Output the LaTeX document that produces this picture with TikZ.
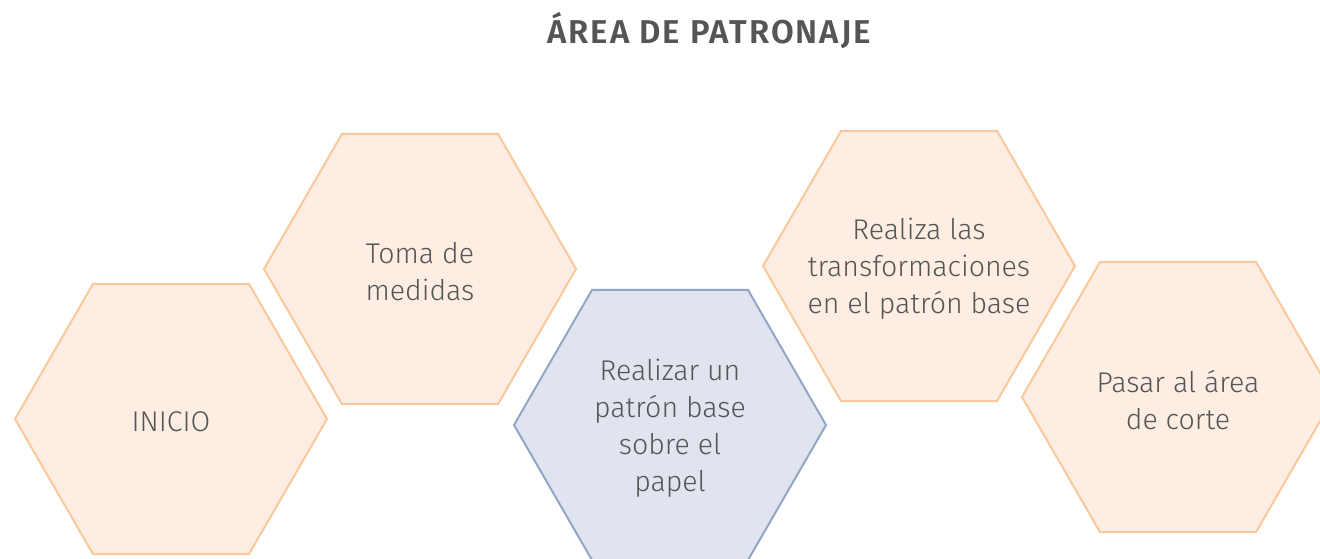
\documentclass[tikz,border=0pt]{standalone}
\usepackage{fontspec}
\setmainfont{Fira Sans}[UprightFont=* Light, BoldFont=* SemiBold]
\usetikzlibrary{shapes.geometric}
\definecolor{ofill}{HTML}{FDEDE2}
\definecolor{odraw}{HTML}{F9C89B}
\definecolor{bfill}{HTML}{DFE4EE}
\definecolor{bdraw}{HTML}{93A6C6}
\definecolor{txt}{HTML}{555555}
\tikzset{
  hexbase/.style={regular polygon, regular polygon sides=6, minimum size=312pt,
    inner sep=0pt, outer sep=0pt, line width=2pt},
  hexo/.style={hexbase, fill=ofill, draw=odraw},
  hexb/.style={hexbase, fill=bfill, draw=bdraw},
  hextext/.style={text=txt, align=center, inner sep=0pt,
    font=\fontsize{28.5}{37}\selectfont},
}
\begin{document}
\begin{tikzpicture}[x=1pt,y=-1pt]
\useasboundingbox (0,0) rectangle (1320,558);
\begin{scope}
\clip (0,0) rectangle (1320,558);
\node[hexo] (h1) at (171,419) {};
\node[hexo] (h2) at (420,269) {};
\node[hexb] (h3) at (670,425) {};
\node[hexo] (h4) at (919,266) {};
\node[hexo] (h5) at (1178,397) {};
\end{scope}
\node[hextext] (t1) at ([yshift=-3pt]h1.center) {INICIO};
\node[hextext] (t2) at ([yshift=-3pt]h2.center) {Toma de\\medidas};
\node[hextext] (t3) at ([yshift=-3pt]h3.center) {Realizar un\\patrón base\\sobre el\\papel};
\node[hextext] (t4) at ([yshift=-3pt]h4.center) {Realiza las\\transformaciones\\en el patrón base};
\node[hextext] (t5) at ([yshift=-3pt]h5.center) {Pasar al área\\de corte};
\node[text=txt, font=\fontsize{33}{36}\selectfont\bfseries\addfontfeature{LetterSpace=6}] (title) at (709,31) {ÁREA DE PATRONAJE};
\end{tikzpicture}
\end{document}
